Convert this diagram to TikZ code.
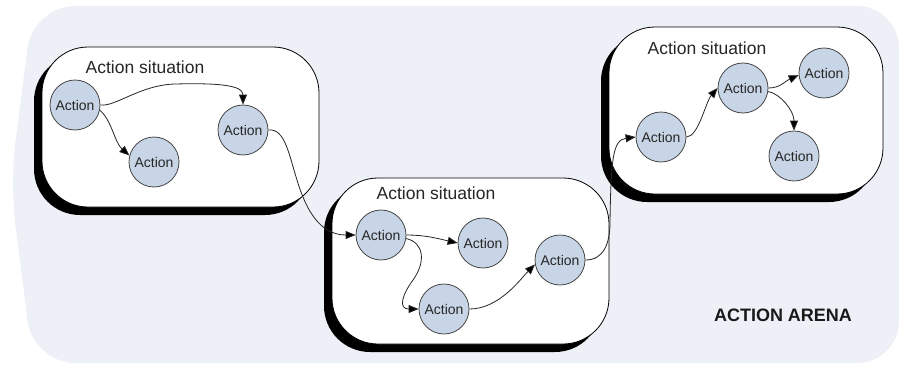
\documentclass[tikz,border=0pt]{standalone}
\usepackage{fontspec}
\setmainfont{Liberation Sans}
\usetikzlibrary{arrows.meta}
\definecolor{arenabg}{RGB}{237,240,246}
\definecolor{actionfill}{RGB}{200,213,230}
\definecolor{actionline}{RGB}{70,70,70}

\begin{document}
\begin{tikzpicture}[
        x=1pt, y=-1pt,
        arena/.style={fill=arenabg, rounded corners=42pt},
        situation/.style={draw=black, fill=white, line width=0.8pt, rounded corners=46pt},
        sitshadow/.style={fill=black, rounded corners=46pt},
        sitlabel/.style={font=\fontsize{17.5}{20}\selectfont, color=black!85},
        arenalabel/.style={font=\bfseries\fontsize{18}{21}\selectfont, color=black!90},
        action/.style={circle, draw=actionline, fill=actionfill, line width=0.8pt,
            minimum size=50pt, inner sep=0pt, text=black!85, font=\fontsize{14}{16}\selectfont},
        flow/.style={draw=black!85, line width=0.8pt, -{Triangle[length=10pt, width=8pt, fill=black]}}
    ]
    \useasboundingbox (0,0) rectangle (899,364);

    % arena
    \fill[arena] (10,183) -- (33,6) -- (899,6) -- (899,363) -- (33,363) -- cycle;
    \node[arenalabel] (arena) at (783,315) {ACTION ARENA};

    % situations (shadow first, then the box)
    \foreach \xa/\ya/\xb/\yb in {42/47/319/207, 332/178/609/344, 609/27/883/194}{
        \fill[sitshadow] (\xa-8,\ya+8) rectangle (\xb-8,\yb+8);
        \draw[situation] (\xa,\ya) rectangle (\xb,\yb);
    }
    \node[sitlabel] (sit1) at (145,67) {Action situation};
    \node[sitlabel] (sit2) at (436,193) {Action situation};
    \node[sitlabel] (sit3) at (707,48) {Action situation};

    % actions
    \node[action] (a1) at (75,105) {Action};
    \node[action] (a2) at (154,162) {Action};
    \node[action] (a3) at (243,130) {Action};

    \node[action] (b1) at (381,235) {Action};
    \node[action] (b2) at (483,243) {Action};
    \node[action] (b3) at (444,309) {Action};
    \node[action] (b4) at (560,260) {Action};

    \node[action] (c1) at (661,137) {Action};
    \node[action] (c2) at (743,88) {Action};
    \node[action] (c3) at (824,73) {Action};
    \node[action] (c4) at (794,156) {Action};

    % flows inside the first situation
    \draw[flow] (a1.east) .. controls +(15,2) and (140,85) .. (175,84)
        .. controls (215,83) and +(0,-20) .. (a3.north);
    \draw[flow] (a1.-12) .. controls +(12,10) and +(-15,-13) .. (a2.165);

    % from the first to the second situation
    \draw[flow] (a3.east) .. controls (285,128) and (289,155) .. (297,180)
        .. controls (306,210) and (320,235) .. (b1.west);

    % flows inside the second situation
    \draw[flow] (b1.east) .. controls +(20,0) and +(-18,-4) .. (b2.west);
    \draw[flow] (b1.-8) .. controls +(18,4) and (426,262) .. (413,280)
        .. controls (402,295) and (398,309) .. (b3.west);
    \draw[flow] (b3.east) .. controls +(30,0) and +(-14,14) .. (b4.190);

    % from the second to the third situation
    \draw[flow] (b4.east) .. controls +(18,0) and +(0,22) .. (610,222)
        .. controls (611,160) and +(-23,3) .. (c1.west);

    % flows inside the third situation
    \draw[flow] (c1.east) .. controls +(12,0) and +(-12,14) .. (c2.west);
    \draw[flow] (c2.east) .. controls +(12,0) and +(-14,6) .. (c3.185);
    \draw[flow] (c2.-8) .. controls +(12,2) and +(0,-20) .. (c4.north);
\end{tikzpicture}
\end{document}
